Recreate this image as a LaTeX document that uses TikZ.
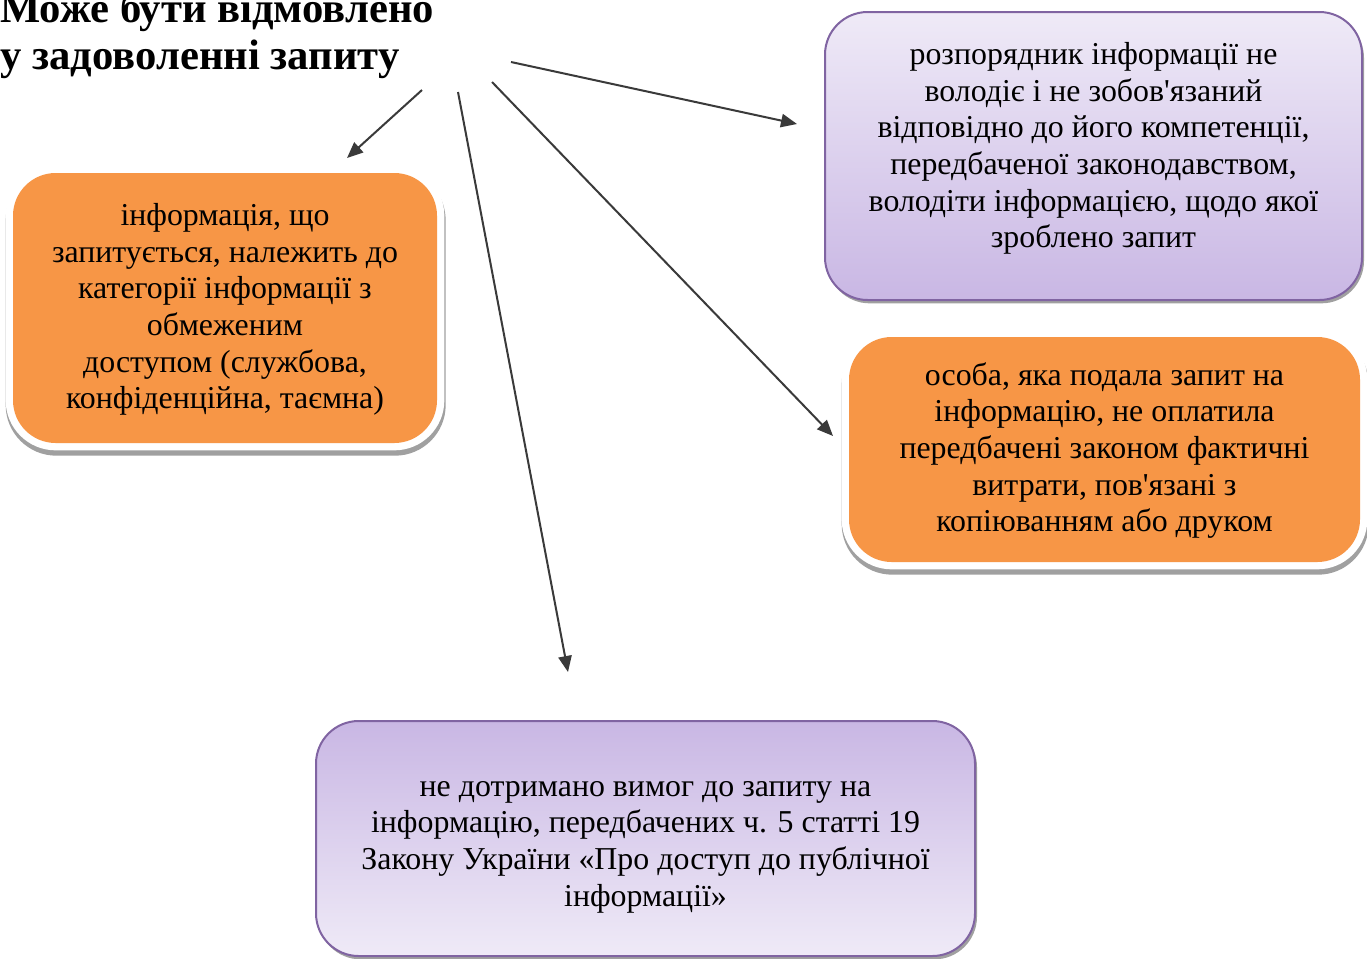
\documentclass[tikz,border=0pt]{standalone}
\usepackage{fontspec}
\setmainfont{Liberation Serif}[Ligatures=TeXOff]
\usetikzlibrary{arrows.meta}
\definecolor{orangeF}{HTML}{F79646}
\definecolor{purpB}{HTML}{8064A2}
\definecolor{purpL}{HTML}{EFEAF7}
\definecolor{purpD}{HTML}{C9B7E4}
\definecolor{arrowC}{HTML}{3A3A3A}
\definecolor{shadowC}{HTML}{A0A0A0}
\tikzset{
  boxtext/.style={align=center, font=\fontsize{23.9pt}{27.5pt}\selectfont, inner sep=0pt},
  orangebox/.style={fill=orangeF, rounded corners=32pt, inner sep=0pt,
    preaction={draw=shadowC, line width=12pt, transform canvas={xshift=0.5pt,yshift=-3.5pt}},
    preaction={draw=white, line width=11pt}},
  purplebox/.style={draw=purpB, line width=1.5pt, rounded corners=32pt, inner sep=0pt,
    preaction={fill=shadowC, transform canvas={xshift=1.5pt,yshift=-2.5pt}}},
  purpdown/.style={purplebox, top color=purpL, bottom color=purpD},
  purpup/.style={purplebox, top color=purpD, bottom color=purpL},
  arr/.style={draw=arrowC, line width=1.5pt, -{Triangle[length=12pt,width=10pt]}},
}
\begin{document}
\begin{tikzpicture}[x=0.75pt,y=-0.75pt]
\useasboundingbox (0,0) rectangle (1367,958);
\fill[white] (0,0) rectangle (1367,958);

% title
\node[anchor=base west, align=left, inner sep=0pt,
  font=\fontsize{32pt}{35.25pt}\selectfont\bfseries] (title) at (0,69)
  {Може бути відмовлено\\у задоволенні запиту};

% boxes
\node[orangebox, minimum width=318pt, minimum height=202.5pt] (bl) at (225,308) {};
\node[boxtext] (tl) at (225,309.5) {інформація, що\\запитується, належить до\\категорії інформації з\\обмеженим\\доступом (службова,\\конфіденційна, таємна)};

\node[purpdown, minimum width=402.75pt, minimum height=216pt] (br) at (1093.5,156) {};
\node[boxtext] (tr) at (1093.5,148.5) {розпорядник інформації не\\володіє і не зобов'язаний\\відповідно до його компетенції,\\передбаченої законодавством,\\володіти інформацією, щодо якої\\зроблено запит};

\node[orangebox, minimum width=383.25pt, minimum height=168.75pt] (bo) at (1104.5,449.5) {};
\node[boxtext] (to) at (1104.5,450.5) {особа, яка подала запит на\\інформацію, не оплатила\\передбачені законом фактичні\\витрати, пов'язані з\\копіюванням або друком};

\node[purpup, minimum width=494.25pt, minimum height=176.25pt] (bb) at (645.5,838.5) {};
\node[boxtext] (tb) at (645.5,847) {не дотримано вимог до запиту на\\інформацію, передбачених ч. 5 статті 19\\Закону України «Про доступ до публічної\\інформації»};

% arrows
\coordinate (s1) at (422,90);  \coordinate (e1) at (347,158);
\coordinate (s2) at (458,92);  \coordinate (e2) at (568,672);
\coordinate (s3) at (492,82);  \coordinate (e3) at (833,436);
\coordinate (s4) at (511,62);  \coordinate (e4) at (797,124);
\draw[arr] (s1) -- (e1);
\draw[arr] (s2) -- (e2);
\draw[arr] (s3) -- (e3);
\draw[arr] (s4) -- (e4);
\end{tikzpicture}
\end{document}
